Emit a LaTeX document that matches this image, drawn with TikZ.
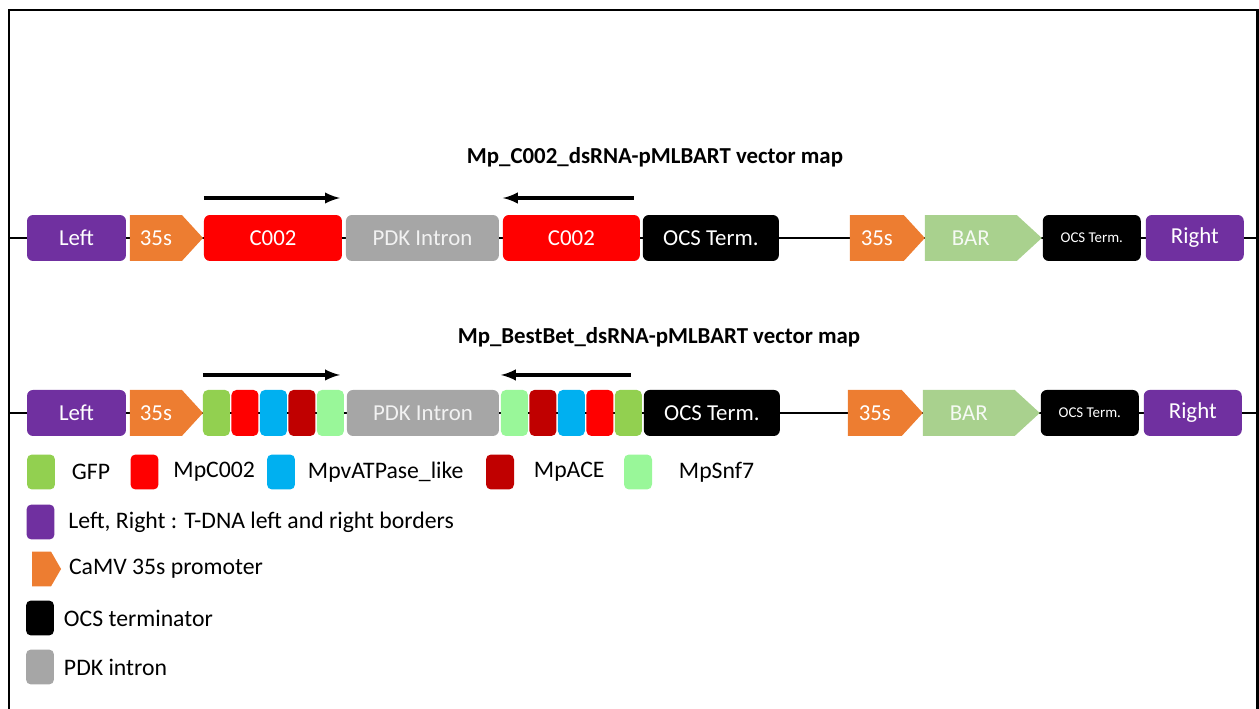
\documentclass[tikz,border=0pt]{standalone}
\usepackage{fontspec}
\setsansfont{Carlito}
\usetikzlibrary{arrows,shapes,positioning}
\definecolor{tdna}{HTML}{7030A0}
\definecolor{promoter}{HTML}{ED7D31}
\definecolor{intron}{HTML}{A6A6A6}
\definecolor{barcol}{HTML}{A9D18E}
\definecolor{gfp}{HTML}{92D050}
\definecolor{mpc}{HTML}{FF0000}
\definecolor{atp}{HTML}{00B0F0}
\definecolor{ace}{HTML}{C00000}
\definecolor{snf}{HTML}{99F799}
\tikzset{
  basic/.style   = {draw=none, inner sep=0pt, outer sep=0pt, minimum height=0.92cm,
                    text=white, font=\sffamily\fontsize{13}{15}\selectfont},
  box/.style     = {basic, rectangle, rounded corners=1.2mm},
  promo/.style   = {basic, signal, signal to=east, signal pointer angle=95,
                    fill=promoter, minimum width=1.48cm},
  border/.style  = {box, fill=tdna, minimum width=1.98cm},
  gene/.style    = {box, fill=mpc},
  pdk/.style     = {box, fill=intron, text=white!95!black},
  term/.style    = {box, fill=black, minimum width=2.72cm},
  seg/.style     = {box, minimum width=0.54cm, rounded corners=1mm},
  key/.style     = {rectangle, rounded corners=1mm, minimum width=0.56cm,
                    minimum height=0.7cm, inner sep=0pt, outer sep=0pt},
  keytext/.style = {inner sep=0pt, outer sep=0pt, font=\sffamily\fontsize{13.5}{15}\selectfont},
  title/.style   = {inner sep=0pt, font=\sffamily\bfseries\fontsize{13}{15}\selectfont},
  strand/.style  = {->, line width=1.9pt},
  backbone/.style= {line width=1.1pt}
}
\begin{document}
\begin{tikzpicture}[x=0.02cm, y=-0.02cm, >=latex]
\useasboundingbox (0,0) rectangle (1259,709);

% frame, open at the bottom
\draw[line width=1.7pt] (9,709) |- (1257,10) -- (1257,709);

% backbones
\coordinate (w1) at (9,238);  \coordinate (e1) at (1257,238);
\coordinate (w2) at (9,413);  \coordinate (e2) at (1257,413);
\draw[backbone] (w1) -- (e1);
\draw[backbone] (w2) -- (e2);

% first construct
\node[title] (map1) at (655,157) {Mp\_C002\_dsRNA-pMLBART vector map};

\node[border] (left1) at (76.5,238) {Left};
\node[promo, minimum width=1.46cm, right=0.08cm of left1] (pro1) {35s};
\node[gene, minimum width=2.76cm, right=0.02cm of pro1] (dsa1) {C002};
\node[pdk, minimum width=3.06cm, right=0.08cm of dsa1] (pdk1) {PDK Intron};
\node[gene, minimum width=2.74cm, right=0.08cm of pdk1] (dsb1) {C002};
\node[term, right=0.06cm of dsb1] (ocs1) {OCS Term.};
\node[promo, minimum width=1.5cm, right=1.42cm of ocs1] (prob1) {35s};
\node[promo, fill=barcol, text=white!90!barcol, minimum width=2.34cm,
      signal pointer angle=85, right=0cm of prob1] (bar1) {BAR};
\node[term, minimum width=1.96cm, font=\sffamily\fontsize{8.5}{10}\selectfont,
      right=0.02cm of bar1] (ocsb1) {OCS Term.};
\node[border, minimum width=1.96cm, right=0.1cm of ocsb1] (right1) {Right};

\draw[strand] ([yshift=0.34cm]dsa1.north west) -- ([xshift=-0.04cm,yshift=0.34cm]dsa1.north east);
\draw[strand] ([xshift=-0.12cm,yshift=0.34cm]dsb1.north east) -- ([yshift=0.34cm]dsb1.north west);

% second construct
\node[title] (map2) at (659,337) {Mp\_BestBet\_dsRNA-pMLBART vector map};

\node[border, below=2.58cm of left1] (left2) {Left};
\node[promo, minimum width=1.46cm, right=0.08cm of left2] (pro2) {35s};
\node[seg, fill=gfp, right=0cm of pro2] (sa1) {};
\node[seg, fill=mpc, right=0.03cm of sa1] (sa2) {};
\node[seg, fill=atp, right=0.03cm of sa2] (sa3) {};
\node[seg, fill=ace, right=0.03cm of sa3] (sa4) {};
\node[seg, fill=snf, right=0.03cm of sa4] (sa5) {};
\node[pdk, minimum width=3.04cm, right=0.06cm of sa5] (pdk2) {PDK Intron};
\node[seg, fill=snf, right=0.04cm of pdk2] (sb1) {};
\node[seg, fill=ace, right=0.03cm of sb1] (sb2) {};
\node[seg, fill=atp, right=0.03cm of sb2] (sb3) {};
\node[seg, fill=mpc, right=0.03cm of sb3] (sb4) {};
\node[seg, fill=gfp, right=0.03cm of sb4] (sb5) {};
\node[term, right=0.04cm of sb5] (ocs2) {OCS Term.};
\node[promo, minimum width=1.5cm, right=1.36cm of ocs2] (prob2) {35s};
\node[promo, fill=barcol, text=white!90!barcol, minimum width=2.34cm,
      signal pointer angle=85, right=0cm of prob2] (bar2) {BAR};
\node[term, minimum width=1.96cm, font=\sffamily\fontsize{8.5}{10}\selectfont,
      right=0.02cm of bar2] (ocsb2) {OCS Term.};
\node[border, minimum width=1.96cm, right=0.1cm of ocsb2] (right2) {Right};

\draw[strand] ([yshift=0.3cm]sa1.north west) -- ([xshift=-0.08cm,yshift=0.3cm]sa5.north east);
\draw[strand] ([xshift=-0.22cm,yshift=0.3cm]sb5.north east) -- ([yshift=0.3cm]sb1.north west);

% legend
\node[key, fill=gfp] (kgfp) at (41,472) {};
\node[keytext, right=0.34cm of kgfp] (tgfp) {GFP};
\node[key, fill=mpc] (kmpc) at (144.5,472) {};
\node[keytext, right=0.3cm of kmpc] (tmpc) {MpC002};
\node[key, fill=atp] (katp) at (281,472) {};
\node[keytext, right=0.26cm of katp] (tatp) {MpvATPase\_like};
\node[key, fill=ace] (kace) at (500,472) {};
\node[keytext, right=0.4cm of kace] (tace) {MpACE};
\node[key, fill=snf] (ksnf) at (638,472) {};
\node[keytext, right=0.54cm of ksnf] (tsnf) {MpSnf7};

\node[key, fill=tdna] (kbord) at (40.5,522) {};
\node[keytext, right=0.28cm of kbord] (tbord) {Left, Right : T-DNA left and right borders};
\node[key, sharp corners, signal, signal to=east, signal pointer angle=120,
      fill=promoter, minimum width=0.58cm] (kpro) at (41.5,569) {};
\node[keytext, right=0.16cm of kpro] (tpro) {CaMV 35s promoter};
\node[key, fill=black] (kocs) at (40,618) {};
\node[keytext, right=0.2cm of kocs] (tocs) {OCS terminator};
\node[key, fill=intron] (kpdk) at (40,667) {};
\node[keytext, right=0.2cm of kpdk] (tpdk) {PDK intron};
\end{tikzpicture}
\end{document}
